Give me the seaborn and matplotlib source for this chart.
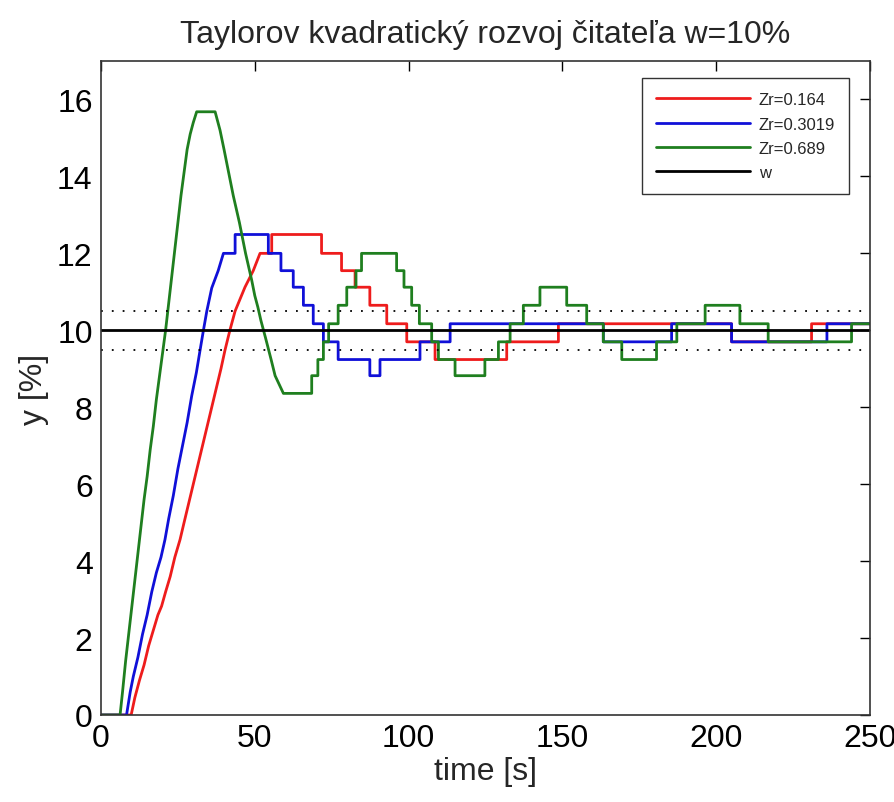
import numpy as np
import pandas as pd
import matplotlib
matplotlib.use("Agg")
import matplotlib.pyplot as plt
import seaborn as sns

# step breakpoints (t in s, y in %)
red_t = [0, 9.8, 11, 12.5, 14, 15.5, 17, 18.5, 19.7, 21, 22.5, 24, 25.7, 27, 28.5, 30,
         31.5, 33, 34.5, 36, 37.5, 39, 40.3, 41.9, 43.6, 46.8, 49.5, 51.7, 55.5, 71.7,
         78.2, 82.6, 87.4, 92.9, 99.4, 108.6, 131.9, 148.7, 205, 231, 250]
red_y = [0, 0, 0.45, 0.9, 1.3, 1.8, 2.2, 2.6, 2.83, 3.2, 3.6, 4.1, 4.56, 5.0, 5.5, 6.0,
         6.5, 7.0, 7.5, 8.0, 8.5, 9.0, 9.48, 10.0, 10.5, 11.12, 11.55, 12.0, 12.49, 12.0,
         11.55, 11.12, 10.65, 10.17, 9.7, 9.24, 9.7, 10.17, 9.7, 10.17, 10.17]

blue_t = [0, 8.3, 9.5, 10.5, 12, 13.5, 15, 16.5, 18, 19.5, 20.8, 22, 23.5, 25, 26.5, 28,
          29.5, 31, 32.2, 33.3, 34.4, 36, 38.1, 39.8, 43.6, 54.4, 58.5, 62.5, 65.8, 69,
          72.3, 77.1, 87.4, 90.7, 103.7, 113.5, 163.3, 185.5, 205, 236, 250]
blue_y = [0, 0, 0.6, 1.0, 1.5, 2.1, 2.6, 3.2, 3.7, 4.1, 4.56, 5.1, 5.7, 6.4, 7.0, 7.6,
          8.3, 8.9, 9.48, 10.0, 10.5, 11.1, 11.55, 12.0, 12.49, 12.0, 11.55, 11.12, 10.65, 10.17,
          9.7, 9.24, 8.82, 9.24, 9.7, 10.17, 9.7, 10.17, 9.7, 10.17, 10.17]

green_t = [0, 6.2, 7, 8, 9, 10, 11, 12, 13, 14, 15, 16, 17, 18, 19, 20, 21, 22, 23, 24,
           25, 26, 27, 28, 29, 30, 31.1, 37.1, 38.7, 40, 41, 42, 43, 44, 45, 46, 47, 48,
           49, 50, 51, 52, 53.5, 55.3, 56.6, 59.3, 68.5, 70.5, 72.3, 74, 77.1, 79.9, 82.9,
           84.7, 96.1, 98.5, 101, 103.5, 107.5, 109.7, 115.1, 124.8, 129.2, 133, 137.3,
           142.7, 151.4, 157.9, 163.3, 169.3, 180.6, 187.2, 196.4, 207.7, 216.9, 244, 250]
green_y = [0, 0, 0.6, 1.4, 2.1, 2.8, 3.5, 4.2, 4.9, 5.6, 6.2, 6.9, 7.5, 8.2, 8.8, 9.4,
           10.0, 10.7, 11.4, 12.1, 12.8, 13.5, 14.1, 14.7, 15.1, 15.4, 15.68, 15.68, 15.2,
           14.7, 14.3, 13.9, 13.5, 13.15, 12.8, 12.4, 12.0, 11.65, 11.3, 10.9, 10.6, 10.25,
           9.8, 9.24, 8.82, 8.36, 8.82, 9.24, 9.7, 10.17, 10.65, 11.12, 11.55, 12.0,
           11.55, 11.12, 10.65, 10.17, 9.7, 9.24, 8.82, 9.24, 9.7, 10.17, 10.65, 11.12,
           10.65, 10.17, 9.7, 9.24, 9.7, 10.17, 10.65, 10.17, 9.7, 10.17, 10.17]

# time spans where the fine staircase reads as a slanted line
red_ramps = [(9.8, 51.7)]
blue_ramps = [(8.3, 39.8)]
green_ramps = [(6.2, 31.1), (37.1, 59.3)]

w_value = 10
band = [9.5, 10.5]
series_names = ["Zr=0.164", "Zr=0.3019", "Zr=0.689"]
series_colors = ["#ee1c1c", "#1010d8", "#1f7f1f"]


def to_path(t, y, ramps):
    """Turn step breakpoints into a drawable path; steps-post except inside ramps."""
    pt, py = [t[0]], [y[0]]
    for i in range(1, len(t)):
        in_ramp = any(a <= t[i - 1] and t[i] <= b for a, b in ramps)
        if not in_ramp:
            pt.append(t[i])
            py.append(y[i - 1])
        pt.append(t[i])
        py.append(y[i])
    return pd.DataFrame({"t": pt, "y": py})


sns.set_style("white")
plt.rcParams["font.family"] = ["Liberation Sans Narrow", "Liberation Sans", "DejaVu Sans"]

fig = plt.figure(figsize=(8.95, 8.03), dpi=100)
ax = fig.add_axes([101 / 895, (803 - 716) / 803, 769 / 895, 654 / 803])

for name, color, t, y, ramps in zip(series_names, series_colors,
                                    [red_t, blue_t, green_t], [red_y, blue_y, green_y],
                                    [red_ramps, blue_ramps, green_ramps]):
    df = to_path(t, y, ramps)
    sns.lineplot(data=df, x="t", y="y", ax=ax, color=color, lw=2.0, label=name,
                 sort=False, estimator=None)

ax.axhline(w_value, color="black", lw=2.0, label="w")
for b in band:
    ax.axhline(b, color="black", lw=1.3, linestyle=(0, (1, 5.0)))

ax.set_xlim(0, 250)
ax.set_ylim(0, 17)
ax.set_xticks(range(0, 251, 50))
ax.set_yticks(range(0, 17, 2))
ax.tick_params(direction="in", length=7, width=1, top=True, right=True,
               labelsize=23, colors="black", pad=6)
for s in ax.spines.values():
    s.set_color("#333333")
    s.set_linewidth(1.2)

ax.set_xlabel("time [s]", fontsize=23, labelpad=2)
ax.set_ylabel("y [%]", fontsize=23, labelpad=6)
ax.set_title("Taylorov kvadratický rozvoj čitateľa w=10%", fontsize=23, pad=14)

leg = ax.legend(loc="upper right", bbox_to_anchor=(0.973, 0.974), borderaxespad=0,
                fontsize=12, handlelength=5.6, handletextpad=0.55, labelspacing=0.56,
                fancybox=False, framealpha=1, edgecolor="#333333", borderpad=0.85)
leg.get_frame().set_linewidth(1.0)

fig.savefig("out.png", dpi=100)
